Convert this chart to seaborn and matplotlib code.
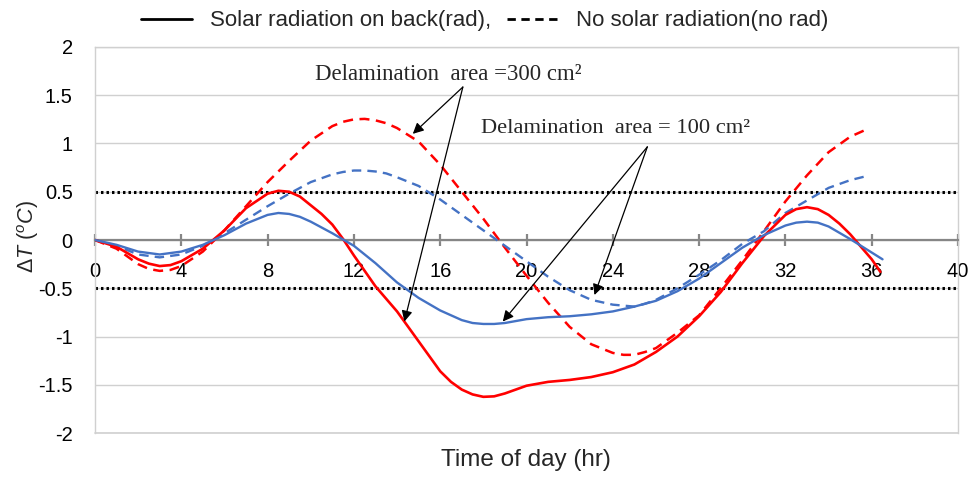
import numpy as np
import pandas as pd
import seaborn as sns
import matplotlib
matplotlib.use("Agg")
import matplotlib.pyplot as plt
from matplotlib.lines import Line2D
from matplotlib.ticker import FuncFormatter, MultipleLocator, FixedLocator

# ---------------- data ----------------
hours_rad300 = [0, 1, 2, 2.5, 3, 3.5, 4, 5, 6, 7, 8, 8.5, 9, 9.5, 10, 10.5, 11, 11.5, 12,
                13, 14, 15, 16, 16.5, 17, 17.5, 18, 18.5, 19, 19.5, 20, 21, 22, 23, 24,
                25, 26, 27, 28, 29, 30, 31, 32, 32.5, 33, 33.5, 34, 34.5, 35, 36, 36.4]
rad300 = [0, -0.07, -0.20, -0.245, -0.27, -0.26, -0.22, -0.09, 0.10, 0.33, 0.48, 0.51,
          0.50, 0.45, 0.36, 0.27, 0.16, 0.01, -0.16, -0.48, -0.74, -1.05, -1.36, -1.47,
          -1.55, -1.60, -1.625, -1.62, -1.59, -1.55, -1.51, -1.47, -1.45, -1.42, -1.37,
          -1.29, -1.16, -1.00, -0.79, -0.54, -0.24, 0.04, 0.26, 0.32, 0.34, 0.32, 0.26,
          0.17, 0.06, -0.20, -0.33]

hours_rad100 = [0, 1, 2, 3, 4, 5, 6, 7, 8, 8.5, 9, 9.5, 10, 11, 12, 13, 14, 15, 16, 17,
                17.5, 18, 18.5, 19, 20, 21, 22, 23, 24, 25, 26, 27, 28, 29, 30, 31, 32,
                32.5, 33, 33.5, 34, 35, 36, 36.5]
rad100 = [0, -0.05, -0.12, -0.15, -0.12, -0.05, 0.05, 0.17, 0.26, 0.28, 0.27, 0.24, 0.19,
          0.07, -0.06, -0.24, -0.44, -0.60, -0.73, -0.83, -0.86, -0.87, -0.87, -0.86,
          -0.82, -0.80, -0.79, -0.77, -0.74, -0.69, -0.63, -0.53, -0.40, -0.24, -0.08,
          0.05, 0.15, 0.18, 0.19, 0.18, 0.14, 0.01, -0.13, -0.20]

hours_norad300 = [0, 1, 2, 2.5, 3, 3.5, 4, 5, 6, 7, 8, 9, 10, 11, 11.5, 12, 12.5, 13, 13.5,
                  14, 15, 16, 17, 18, 19, 20, 21, 22, 23, 24, 24.5, 25, 25.5, 26, 27, 28,
                  29, 30, 31, 32, 33, 34, 35, 35.7]
norad300 = [0, -0.09, -0.25, -0.30, -0.32, -0.31, -0.27, -0.12, 0.10, 0.35, 0.60, 0.82,
            1.03, 1.18, 1.225, 1.25, 1.255, 1.24, 1.21, 1.16, 1.02, 0.78, 0.50, 0.22,
            -0.08, -0.37, -0.65, -0.90, -1.08, -1.17, -1.19, -1.19, -1.16, -1.12, -0.96,
            -0.78, -0.50, -0.21, 0.09, 0.40, 0.67, 0.91, 1.07, 1.14]

hours_norad100 = [0, 1, 2, 3, 4, 5, 6, 7, 8, 9, 10, 11, 11.5, 12, 12.5, 13, 13.5, 14, 15,
                  16, 17, 18, 19, 20, 21, 22, 23, 24, 24.5, 25, 25.5, 26, 27, 28, 29, 30,
                  31, 32, 33, 34, 35, 35.9]
norad100 = [0, -0.06, -0.15, -0.18, -0.15, -0.06, 0.07, 0.21, 0.35, 0.48, 0.60, 0.68,
            0.705, 0.72, 0.72, 0.71, 0.69, 0.65, 0.56, 0.42, 0.26, 0.10, -0.06, -0.22,
            -0.38, -0.52, -0.62, -0.67, -0.68, -0.69, -0.66, -0.62, -0.50, -0.36, -0.21,
            -0.04, 0.09, 0.28, 0.41, 0.54, 0.62, 0.67]

threshold = [0.5, -0.5]
x_ticks = list(range(0, 41, 4))

legend_labels = ["Solar radiation on back(rad),", "No solar radiation(no rad)"]
label_300 = "Delamination  area =300 cm\u00b2"
label_100 = "Delamination  area = 100 cm\u00b2"

# ---------------- styling ----------------
sns.set_theme(style="white")
plt.rcParams["font.family"] = ["Liberation Sans", "DejaVu Sans"]
plt.rcParams["axes.unicode_minus"] = False
plt.rcParams["mathtext.fontset"] = "custom"
plt.rcParams["mathtext.it"] = "Liberation Sans:italic"
plt.rcParams["mathtext.rm"] = "Liberation Sans"

RED = "#ff0000"
BLUE = "#4472c4"

fig = plt.figure(figsize=(9.69, 4.78), dpi=100)
ax = fig.add_axes([0.098, 0.0941, 0.8907, 0.8076])

frames = {
    "norad300": pd.DataFrame({"t": hours_norad300, "dT": norad300}),
    "norad100": pd.DataFrame({"t": hours_norad100, "dT": norad100}),
    "rad300": pd.DataFrame({"t": hours_rad300, "dT": rad300}),
    "rad100": pd.DataFrame({"t": hours_rad100, "dT": rad100}),
}
styles = {
    "norad300": dict(color=RED, lw=1.8, dashes=(4, 2.6)),
    "norad100": dict(color=BLUE, lw=1.7, dashes=(4, 2.6)),
    "rad300": dict(color=RED, lw=1.9),
    "rad100": dict(color=BLUE, lw=1.7),
}

# grid & reference lines
ax.set_xlim(0, 40)
ax.set_ylim(-2, 2)
ax.yaxis.set_major_locator(MultipleLocator(0.5))
ax.xaxis.set_major_locator(FixedLocator(x_ticks))
ax.yaxis.grid(True, color="#d0d0d0", lw=1.0)
ax.xaxis.grid(False)
ax.axhline(-2, color="#d0d0d0", lw=1.2, clip_on=False, zorder=1)
for y in threshold:
    ax.axhline(y, color="black", lw=2.2, ls=(0, (0.8, 1.0)), zorder=2)

for key, df in frames.items():
    st = styles[key]
    sns.lineplot(data=df, x="t", y="dT", ax=ax, zorder=4, color=st["color"], lw=st["lw"],
                 sort=False)
    if "dashes" in st:
        ax.lines[-1].set_dashes(st["dashes"])

# spines
ax.spines["bottom"].set_position(("data", 0))
ax.spines["bottom"].set_color("#868686")
ax.spines["bottom"].set_linewidth(1.6)
ax.spines["bottom"].set_zorder(3)
for s in ["left", "right", "top"]:
    ax.spines[s].set_color("#d0d0d0")
    ax.spines[s].set_linewidth(1.0)

ax.tick_params(axis="x", direction="inout", length=9, width=1.6, color="#868686",
               pad=11, labelsize=14.5, labelcolor="#000000", bottom=True)
ax.tick_params(axis="y", length=0, pad=16, labelsize=14.5, labelcolor="#000000")
ax.yaxis.set_major_formatter(FuncFormatter(lambda v, p: f"{v:g}"))
ax.xaxis.set_major_formatter(FuncFormatter(lambda v, p: f"{v:g}"))

ax.set_xlabel("")
ax.set_ylabel(r"$\mathit{\Delta T}$ $\mathit{(^{o}C)}$", fontsize=15.5)
ax.yaxis.set_label_coords(-0.063, 0.51)
fig.text(0.543, 0.038, "Time of day (hr)", ha="center", va="center", fontsize=17.5)

# annotations
arrow_kw = dict(arrowstyle="-|>", color="black", lw=0.9, mutation_scale=16,
                shrinkA=0, shrinkB=0)
ax.text(10.2, 1.71, label_300, family="Liberation Serif", fontsize=16.4,
        ha="left", va="center")
for tgt in [(14.73, 1.10), (14.34, -0.845)]:
    ax.annotate("", xy=tgt, xytext=(17.05, 1.585), arrowprops=arrow_kw, zorder=6)
ax.text(17.9, 1.16, label_100, family="Liberation Serif", fontsize=16.2,
        ha="left", va="center")
for tgt in [(18.9, -0.845), (23.15, -0.57)]:
    ax.annotate("", xy=tgt, xytext=(25.6, 0.965), arrowprops=arrow_kw, zorder=6)

# legend
handles = [Line2D([], [], color="black", lw=2),
           Line2D([], [], color="black", lw=2, dashes=(3, 2))]
fig.legend(handles, legend_labels, loc="upper center", bbox_to_anchor=(0.5, 1.02),
           ncol=2, frameon=False, fontsize=16, handlelength=2.3, handletextpad=0.8,
           columnspacing=0.7)

fig.savefig("out.png", dpi=100)
